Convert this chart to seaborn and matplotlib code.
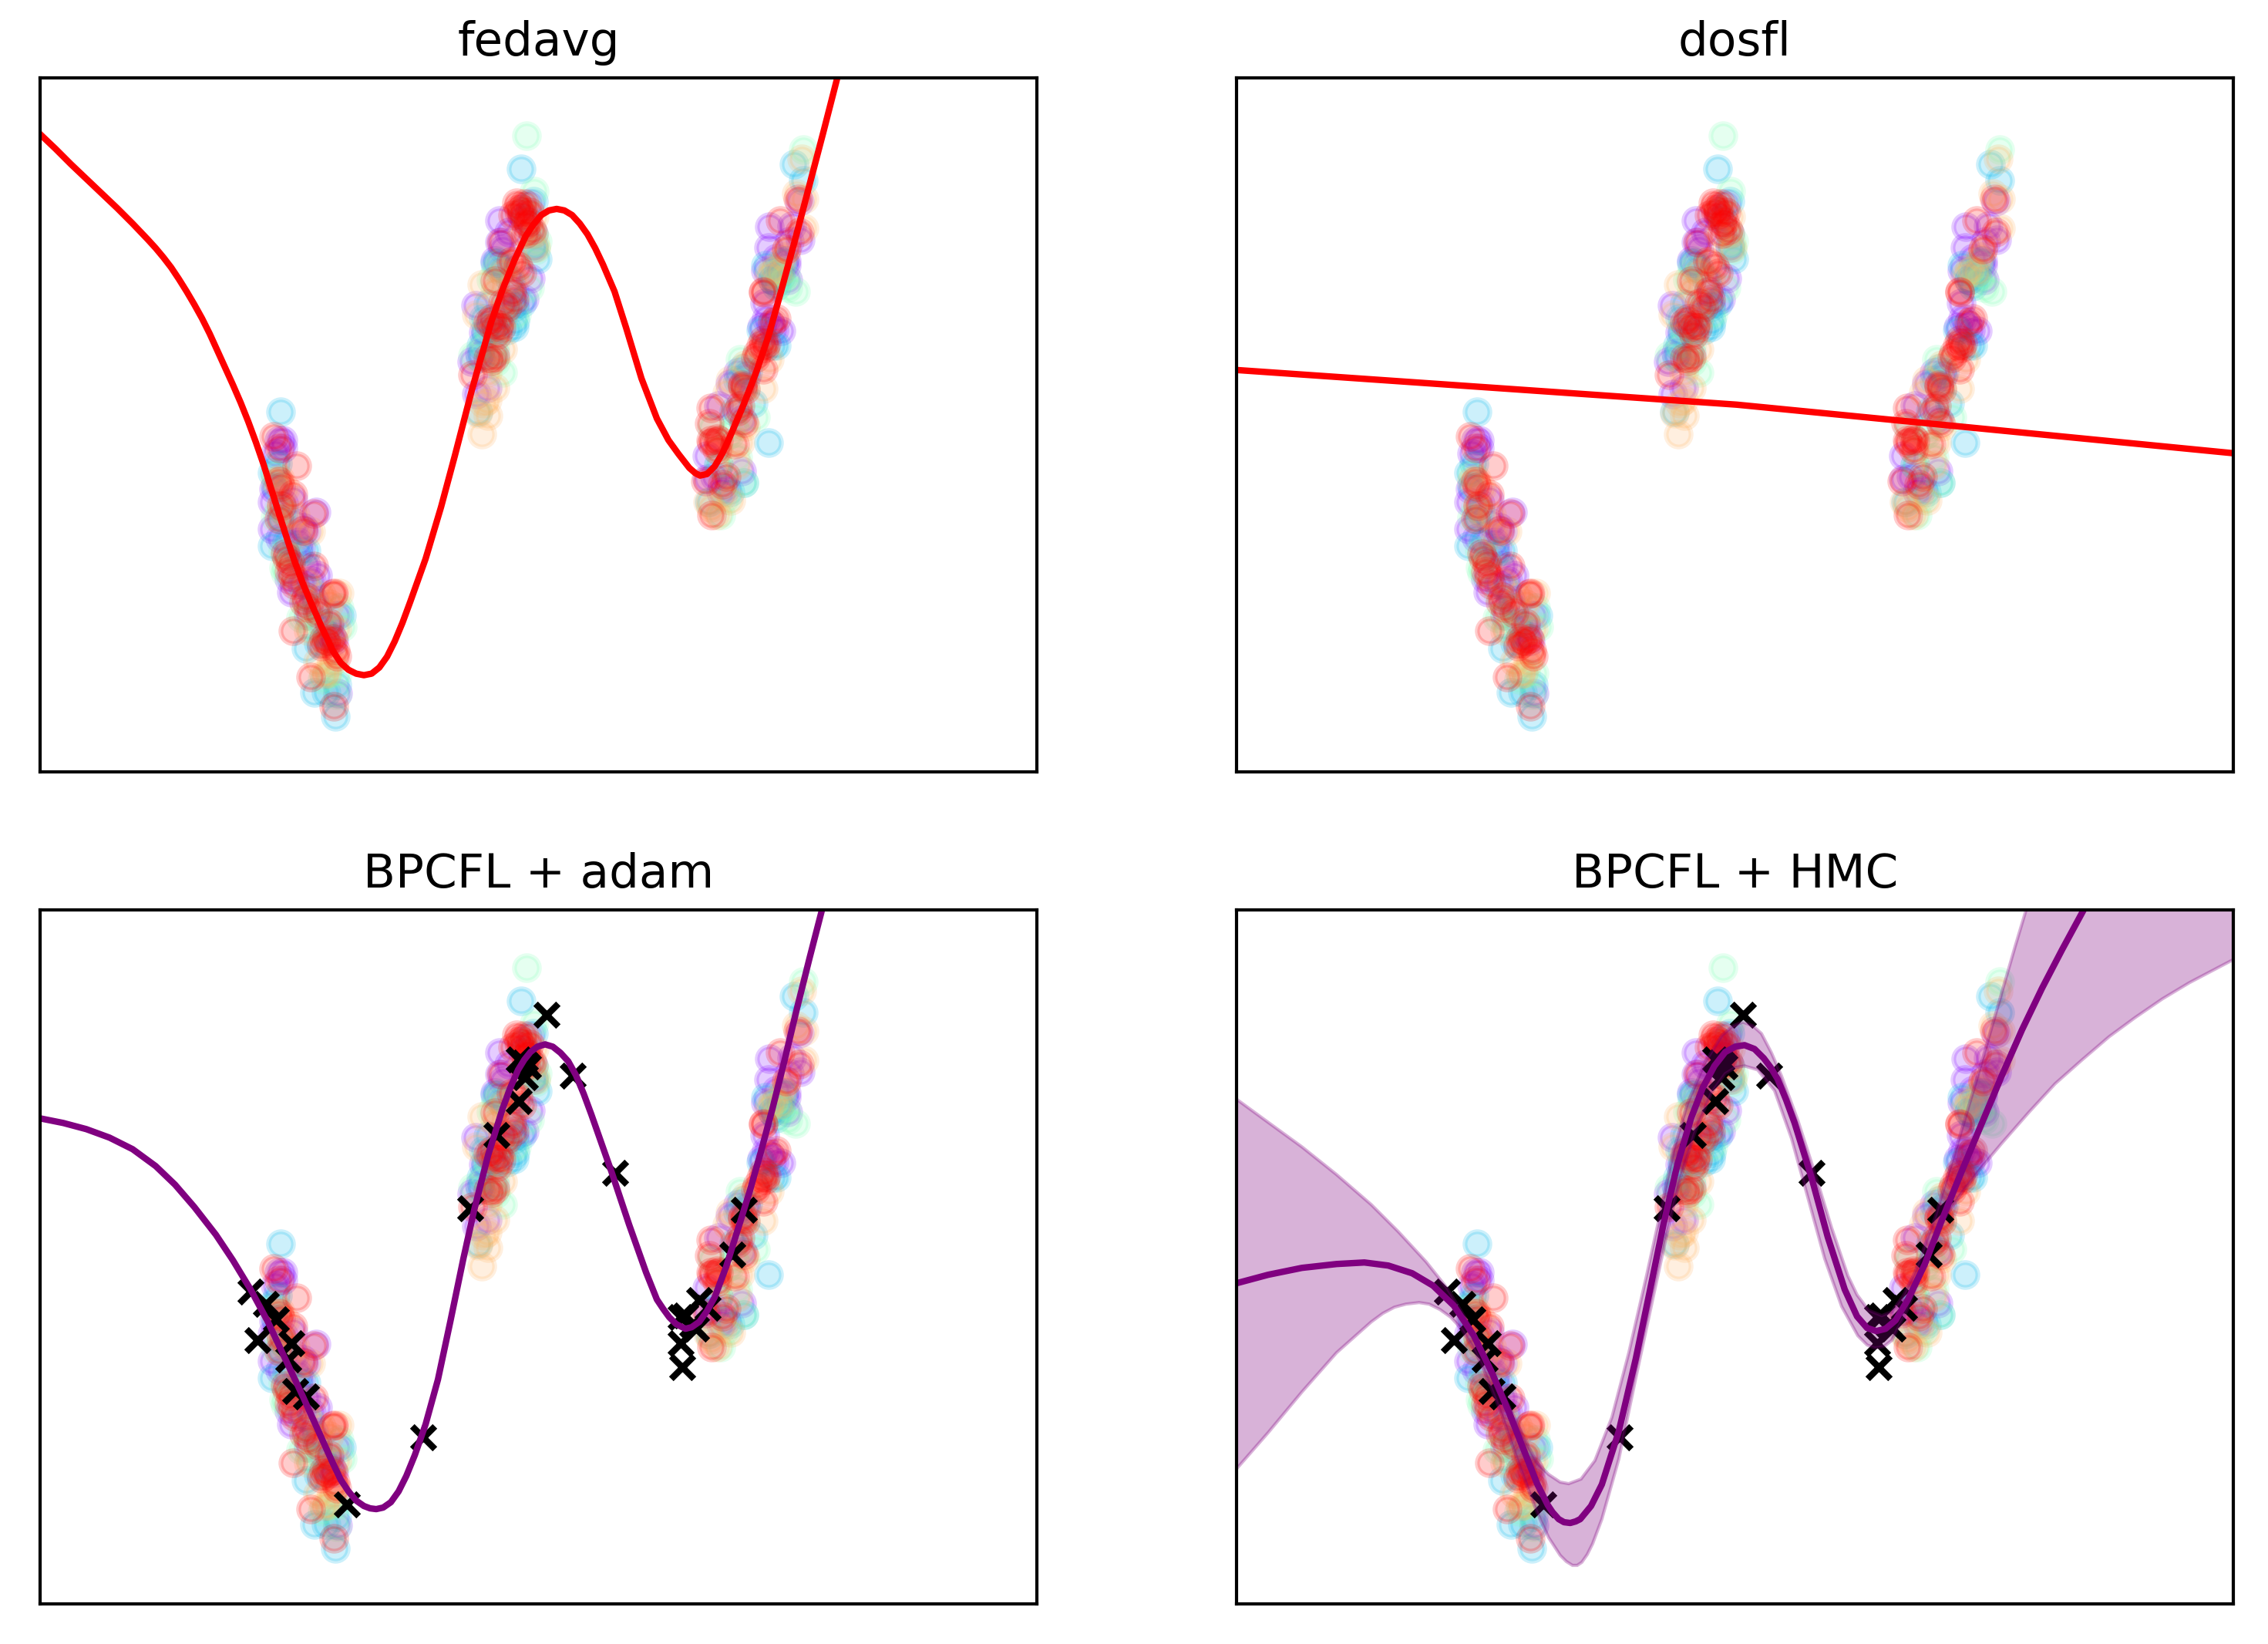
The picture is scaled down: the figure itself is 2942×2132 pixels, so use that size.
import matplotlib
matplotlib.use("Agg")
import matplotlib.pyplot as plt
import seaborn as sns

# client colours, drawn in this order
purple_c = "#8000ff"
blue_c = "#00b5eb"
mint_c = "#80ffb4"
orange_c = "#ffb360"
red_c = "#ff0000"

# client samples
purple_x = [310, 315, 303, 301, 301, 358, 328, 345, 338, 360, 323, 326, 348, 385, 381, 386, 311, 341,
            316, 330, 335, 345, 352, 340, 355, 375, 378, 305, 315,
            596, 608, 596, 640, 636, 565, 560, 580, 566, 615, 595, 575, 635,
            590, 600, 625, 640, 628, 600, 582, 570, 615,
            985, 946, 975, 986, 945, 968, 941, 968, 940, 936, 961, 948, 916, 880, 911, 865, 910, 883, 865,
            958, 955, 970, 950, 972, 952, 942, 895, 905, 875, 890]
purple_y = [432, 422, 369, 352, 317, 339, 355, 314, 292, 257, 252, 235, 205, 205, 172, 104, 305, 319,
            350, 325, 300, 270, 250, 245, 225, 190, 178, 415, 432,
            717, 702, 689, 682, 642, 607, 534, 500, 492, 609, 662, 572, 739,
            665, 680, 720, 700, 615, 595, 580, 545, 625,
            742, 709, 710, 692, 682, 665, 652, 659, 610, 579, 574, 582, 515, 477, 459, 412, 392, 365, 382,
            650, 668, 640, 640, 690, 575, 590, 505, 520, 385, 370]

blue_x = [312, 301, 301, 345, 356, 371, 383, 391, 345, 308, 361,
          316, 320, 335, 350, 358, 372, 385, 305, 312, 365,
          624, 640, 645, 616, 615, 606, 578, 590, 581, 615, 571, 568,
          600, 610, 575, 590, 625, 640, 630, 572, 590,
          978, 990, 945, 955, 925, 913, 961, 955, 911, 868, 941,
          950, 965, 960, 935, 918, 905, 880, 895, 900, 950]
blue_y = [469, 390, 295, 162, 105, 105, 74, 205, 289, 402, 169,
          340, 300, 285, 240, 215, 180, 115, 372, 330, 195,
          784, 742, 667, 587, 579, 575, 572, 662, 609, 605, 539, 469,
          655, 640, 590, 575, 610, 685, 720, 555, 545,
          790, 769, 429, 555, 480, 377, 645, 632, 525, 352, 659,
          640, 665, 650, 575, 520, 510, 400, 365, 470, 555]

mint_x = [305, 316, 345, 388, 386, 366, 385, 338, 315, 305,
          310, 325, 340, 360, 375, 392, 350, 318,
          631, 641, 561, 591, 635, 618, 643, 591, 578, 595,
          575, 585, 625, 640, 605, 590, 600, 645,
          990, 980, 908, 928, 905, 883, 913, 968, 955, 871,
          962, 970, 950, 915, 900, 880, 890, 895]
mint_y = [332, 267, 205, 215, 130, 122, 102, 202, 289, 389,
          345, 280, 230, 195, 130, 190, 190, 260,
          827, 755, 542, 534, 630, 595, 679, 655, 579, 665,
          555, 640, 730, 700, 610, 555, 520, 690,
          809, 625, 537, 462, 410, 335, 377, 645, 652, 449,
          640, 630, 650, 500, 450, 400, 355, 440]

orange_x = [311, 305, 351, 313, 388, 365, 385, 378, 368, 348, 331,
            320, 318, 335, 345, 375, 382, 360, 372,
            573, 566, 600, 580, 581, 568, 573, 643, 641, 615,
            590, 600, 580, 590, 625, 640, 615, 600, 575,
            988, 981, 991, 991, 968, 891, 946, 908, 896, 866, 878, 951, 938,
            960, 965, 945, 915, 895, 915, 885, 870, 880, 905]
orange_y = [382, 379, 314, 349, 234, 232, 187, 144, 129, 185, 335,
            335, 370, 310, 250, 220, 155, 145, 130,
            634, 595, 550, 484, 464, 467, 440, 682, 722, 664,
            625, 590, 520, 500, 700, 700, 640, 650, 480,
            797, 752, 745, 707, 679, 494, 537, 429, 354, 352, 335, 655, 499,
            650, 670, 645, 530, 510, 450, 360, 345, 420, 400]

red_x = [303, 310, 333, 310, 328, 313, 310, 355, 341, 325, 320, 355, 328, 381, 380, 345, 348, 375, 328, 371, 365, 385, 351, 381, 380, 323,
         374, 368, 342, 330, 318, 312, 360, 383,
         618, 628, 621, 633, 638, 598, 611, 625, 590, 615, 581, 588, 593, 581, 585, 561, 625, 613, 630, 595, 606,
         620, 625, 635, 630, 586, 598, 590, 612, 620, 600,
         960, 985, 983, 968, 938, 950, 938, 935, 928, 938, 911, 908, 913, 870, 868, 878, 871, 901, 863, 890, 871, 938, 911,
         940, 942, 955, 930, 915, 880, 870, 878, 905, 885]
red_y = [437, 422, 399, 379, 362, 347, 330, 337, 315, 272, 279, 269, 255, 234, 233, 229, 215, 195, 185, 169, 165, 152, 125, 87, 175, 262,
         172, 175, 222, 245, 285, 372, 208, 160,
         740, 739, 729, 715, 705, 689, 664, 649, 639, 615, 585, 579, 569, 539, 535, 517, 725, 724, 712, 582, 605,
         735, 732, 728, 700, 590, 578, 540, 625, 658, 610,
         717, 702, 745, 680, 624, 585, 562, 555, 539, 524, 504, 477, 455, 474, 454, 434, 429, 427, 379, 385, 335, 625, 502,
         552, 558, 590, 545, 498, 432, 432, 420, 470, 375]

# inducing points of the BPCFL panels
inducing_x = [273, 293, 306, 282, 326, 322, 331, 345, 398, 497, 558, 592, 621, 629, 628, 621, 633, 657, 691, 746,
              831, 846, 831, 833, 855, 866, 898, 913, 837, 851]
inducing_y = [407, 391, 371, 344, 340, 319, 278, 271, 131, 218, 515, 610, 654, 685, 704, 708, 699, 766, 687, 561,
              374, 364, 340, 309, 396, 386, 455, 513, 376, 359]

# fitted curves
fedavg_x = [0, 20, 40, 60, 80, 100, 120, 140, 150, 160, 170, 180, 190, 200, 210, 220, 230, 240, 250, 260, 270, 280, 290, 300,
            310, 320, 330, 340, 350, 365, 380, 390, 400, 410, 420, 430, 440, 450, 460, 470, 480, 490, 500, 520, 538, 560,
            585, 600, 615, 630, 640, 650, 660, 670, 680, 690, 700, 710, 720, 730, 745, 760, 780, 800, 815, 828, 842, 850,
            856, 865, 875, 885, 895, 912, 928, 945, 961, 980, 995, 1016, 1045]
fedavg_y = [829, 810, 790, 771, 752, 733, 713, 692, 681, 669, 656, 641, 625, 608, 590, 570, 548, 526, 504, 481, 456, 429, 400, 368,
            336, 305, 275, 248, 224, 190, 158, 143, 134, 129, 127, 129, 137, 151, 171, 195, 222, 250, 278, 345, 412, 497,
            585, 628, 665, 697, 712, 724, 730, 732, 730, 724, 713, 699, 681, 660, 625, 578, 512, 460, 432, 414, 396, 389,
            386, 388, 398, 415, 437, 477, 518, 568, 625, 695, 752, 832, 945]

dosfl_x = [0, 649, 1293]
dosfl_y = [523, 478, 415]

adam_x = [0, 30, 60, 90, 120, 150, 175, 200, 228, 250, 273, 295, 317, 340, 362, 380, 390, 400, 410, 420, 428, 436, 445, 455, 465,
          475, 486, 500, 516, 532, 549, 563, 581, 600, 610, 620, 628, 636, 645, 655, 665, 675, 685, 695, 705, 715, 741, 764, 786,
          800, 808, 816, 825, 837, 845, 855, 865, 875, 890, 905, 920, 935, 950, 965, 981, 998, 1015, 1030]
adam_y = [632, 626, 618, 607, 592, 570, 546, 517, 481, 448, 410, 369, 322, 273, 224, 184, 163, 148, 136, 129, 126, 125, 127, 134, 148,
          168, 195, 235, 293, 368, 450, 513, 584, 645, 672, 695, 708, 718, 725, 728, 725, 717, 706, 688, 664, 637, 563, 494, 432,
          397, 385, 374, 365, 359, 361, 368, 382, 400, 440, 488, 536, 589, 645, 705, 772, 840, 906, 965]

hmc_x = [0, 41, 85, 130, 166, 197, 228, 255, 282, 308, 331, 353, 375, 390, 404, 410, 418, 425, 433, 440, 446, 460, 474, 496, 518, 536,
         554, 572, 590, 605, 620, 634, 647, 659, 672, 684, 693, 702, 713, 724, 746, 767, 789, 805, 818, 830, 842, 855, 871, 893, 915, 941,
         967, 993, 1019, 1045, 1071, 1097, 1110]
hmc_y = [418, 429, 438, 443, 445, 441, 431, 415, 389, 350, 303, 252, 196, 158, 130, 121, 112, 108, 107, 109, 112, 129, 157, 226, 320, 407,
         495, 572, 633, 672, 700, 718, 725, 727, 722, 710, 698, 683, 656, 626, 555, 478, 410, 375, 360, 356, 359, 370, 397, 443, 500, 564,
         626, 688, 747, 801, 851, 899, 923]

hmc_upper_x = [0, 41, 85, 130, 175, 210, 246, 273, 300, 326, 353, 375, 390, 405, 420, 431, 447, 465, 487, 509, 532, 550, 567,
               585, 608, 630, 644, 657, 670, 681, 694, 707, 728, 750, 772, 793, 805, 820, 837, 850, 865, 880, 906, 932, 958,
               984, 1010, 1028, 1036, 1293]
hmc_upper_y = [657, 627, 595, 559, 520, 485, 446, 412, 368, 315, 260, 213, 185, 170, 160, 158, 164, 188, 244, 328, 428, 510, 590,
               651, 705, 740, 752, 757, 752, 742, 717, 687, 630, 562, 490, 428, 403, 383, 376, 381, 402, 432, 503, 588, 675,
               765, 855, 915, 945, 1100]
hmc_lower_x = [0, 41, 85, 130, 175, 190, 205, 220, 237, 250, 264, 278, 291, 305, 318, 344, 367, 389, 405, 420, 428, 436, 442, 448, 455, 462,
               474, 496, 518, 541, 559, 576, 594, 616, 634, 647, 659, 676, 698, 720, 741, 763, 785, 806, 818, 828, 840, 850, 871, 893,
               915, 941, 967, 993, 1028, 1062, 1097, 1132, 1166, 1201, 1236, 1293]
hmc_lower_y = [177, 224, 277, 328, 368, 379, 387, 391, 393, 391, 384, 374, 360, 338, 313, 248, 182, 123, 88, 65, 57, 52, 52, 56, 66, 80,
               112, 190, 295, 402, 485, 555, 612, 665, 690, 698, 700, 695, 668, 606, 530, 450, 388, 350, 338, 334, 336, 344, 385, 445,
               497, 536, 569, 600, 640, 677, 708, 738, 763, 787, 808, 838]

titles = ["fedavg", "dosfl", "BPCFL + adam", "BPCFL + HMC"]
clients = [(purple_x, purple_y, purple_c), (blue_x, blue_y, blue_c), (mint_x, mint_y, mint_c),
           (orange_x, orange_y, orange_c), (red_x, red_y, red_c)]


def draw_clients(ax):
    for cx, cy, c in clients:
        sns.scatterplot(x=cx, y=cy, color=c, edgecolor=c, s=60, alpha=0.2, linewidth=1.5, ax=ax)


def draw_inducing(ax):
    sns.scatterplot(x=inducing_x, y=inducing_y, marker="x", color="black", s=50, linewidth=2, ax=ax)


def draw_curve(ax, x, y, color):
    sns.lineplot(x=x, y=y, color=color, linewidth=2, estimator=None, sort=False, ax=ax)


fig, axes = plt.subplots(2, 2, figsize=(2942 / 300, 2132 / 300))
fig.subplots_adjust(left=52 / 2942, right=2897 / 2942, top=1 - 101 / 2132, bottom=1 - 2080 / 2132,
                    wspace=0.2, hspace=0.2)

for ax in axes.flat:
    draw_clients(ax)

draw_curve(axes[0, 0], fedavg_x, fedavg_y, "red")
draw_curve(axes[0, 1], dosfl_x, dosfl_y, "red")

draw_inducing(axes[1, 0])
draw_curve(axes[1, 0], adam_x, adam_y, "purple")

draw_inducing(axes[1, 1])
axes[1, 1].fill(hmc_upper_x + hmc_lower_x[::-1], hmc_upper_y + hmc_lower_y[::-1], color="purple", alpha=0.3)
draw_curve(axes[1, 1], hmc_x, hmc_y, "purple")

for ax, title in zip(axes.flat, titles):
    ax.set_xlim(0, 1293)
    ax.set_ylim(2, 902)
    ax.set_xticks([])
    ax.set_yticks([])
    ax.set_title(title, fontsize=14.7, pad=7)
    for spine in ax.spines.values():
        spine.set_linewidth(1.0)

plt.savefig("out.png", dpi=300)
plt.close()
